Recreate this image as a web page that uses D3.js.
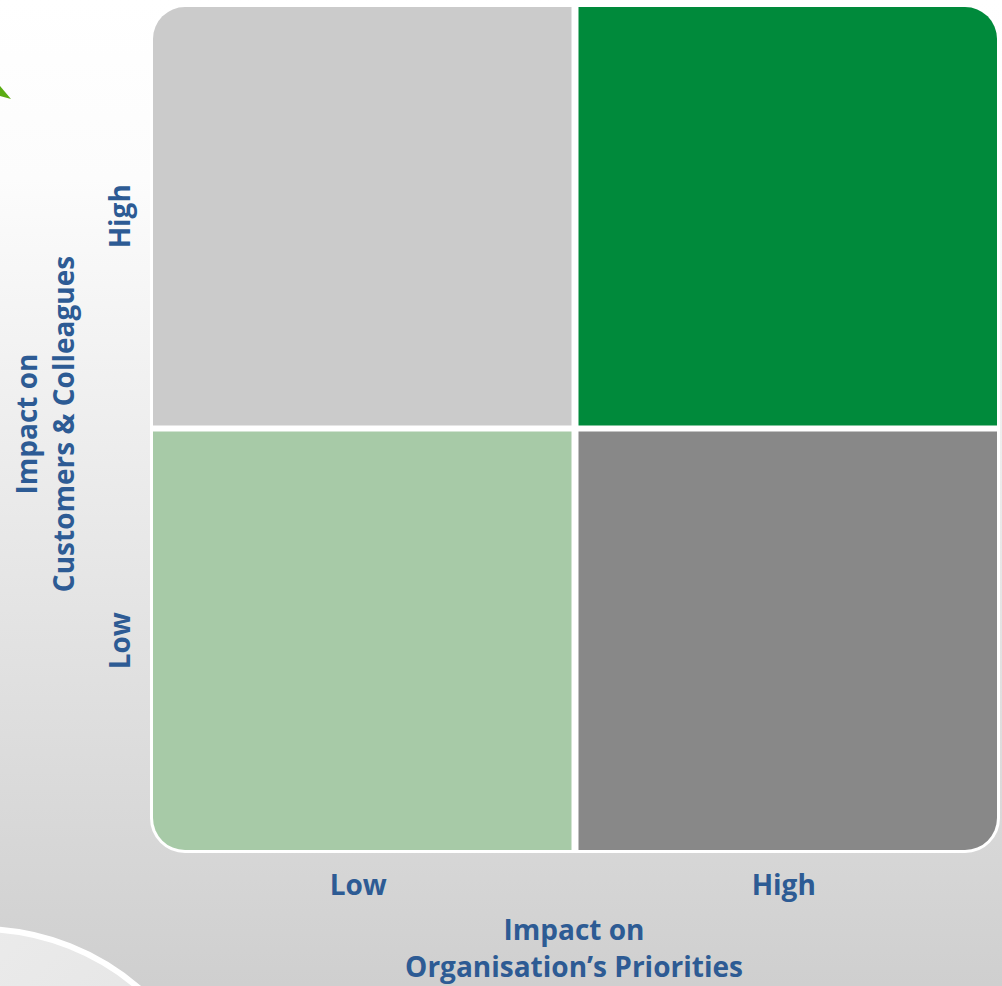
<!DOCTYPE html>
<html>
<head>
<meta charset="utf-8">
<script src="https://cdn.jsdelivr.net/npm/d3@7"></script>
<style>
   html, body { margin: 0; padding: 0; background: #ffffff; }
   #matrixDiv { width: 1002px; height: 986px; }
</style>
</head>
<body>
<div id="matrixDiv"></div>
<script>
//----------------------------------------------------------------------------------------------------
// data: two categories on each axis, one fill per quadrant
var xLevels = ["Low", "High"];          // impact on organisation's priorities
var yLevels = ["High", "Low"];          // impact on customers & colleagues, top to bottom
var quadrants = [
   {x: "Low",  y: "High", fill: "#cbcbcb"},
   {x: "High", y: "High", fill: "#008a3b"},
   {x: "Low",  y: "Low",  fill: "#a7caa7"},
   {x: "High", y: "Low",  fill: "#888888"}
   ];
var xTitle = ["Impact on", "Organisation\u2019s Priorities"];
var yTitle = ["Impact on", "Customers & Colleagues"];

var chartWidth = 1002;
var chartHeight = 986;
var textColor = "#2d5b94";
var font = "'Open Sans', 'DejaVu Sans', sans-serif";

   // matrix box ('top' is taken by window.top, so keep these prefixed)
var mLeft = 153, mRight = 997, mTop = 7, mBottom = 850;
var gap = 7;
//----------------------------------------------------------------------------------------------------
function drawBackground(svg)
{
   var defs = svg.append("defs");

   var bg = defs.append("linearGradient")
      .attr("id", "bgGrad")
      .attr("x1", 0).attr("y1", 0).attr("x2", 0).attr("y2", 1);
   bg.append("stop").attr("offset", "0").attr("stop-color", "#ffffff");
   bg.append("stop").attr("offset", "0.18").attr("stop-color", "#fcfcfc");
   bg.append("stop").attr("offset", "1").attr("stop-color", "#cfcfcf");

   var disc = defs.append("linearGradient")
      .attr("id", "discGrad")
      .attr("x1", 0).attr("y1", 0).attr("x2", 1).attr("y2", 1);
   disc.append("stop").attr("offset", "0").attr("stop-color", "#f0f0f0");
   disc.append("stop").attr("offset", "1").attr("stop-color", "#dcdcdc");

   defs.append("clipPath")
      .attr("id", "matrixClip")
      .append("rect")
      .attr("x", mLeft).attr("y", mTop)
      .attr("width", mRight - mLeft).attr("height", mBottom - mTop)
      .attr("rx", 32).attr("ry", 32);

   svg.append("rect")
      .attr("width", chartWidth).attr("height", chartHeight)
      .attr("fill", "url(#bgGrad)");

      // decorative white ring peeking in at bottom left
   svg.append("circle")
      .attr("cx", -20).attr("cy", 1172).attr("r", 243)
      .attr("fill", "url(#discGrad)")
      .attr("stroke", "#ffffff")
      .attr("stroke-width", 6);

      // green arrow tip at the top left edge
   svg.append("path")
      .attr("d", "M0,86 L11,99 L0,96 Z")
      .attr("fill", "#5aac12");

} // drawBackground
//----------------------------------------------------------------------------------------------------
function drawMatrix(svg, xScale, yScale)
{
   svg.append("rect")
      .attr("x", mLeft).attr("y", mTop)
      .attr("width", mRight - mLeft).attr("height", mBottom - mTop)
      .attr("rx", 32).attr("ry", 32)
      .attr("fill", "#ffffff")
      .attr("stroke", "#ffffff")
      .attr("stroke-width", 6);

   svg.append("g")
      .attr("clip-path", "url(#matrixClip)")
      .selectAll("rect")
      .data(quadrants)
      .enter()
      .append("rect")
      .attr("x", function(d){ return xScale(d.x); })
      .attr("y", function(d){ return yScale(d.y); })
      .attr("width", xScale.bandwidth())
      .attr("height", yScale.bandwidth())
      .attr("fill", function(d){ return d.fill; });

} // drawMatrix
//----------------------------------------------------------------------------------------------------
function drawLabels(svg, xScale, yScale)
{
   var label = function(sel){
      sel.attr("fill", textColor)
         .attr("font-family", font)
         .attr("font-weight", "bold")
         .attr("font-size", 28)
         .attr("text-anchor", "middle");
      };

   svg.selectAll("text.xTick")
      .data(xLevels)
      .enter()
      .append("text")
      .attr("class", "xTick")
      .attr("x", function(d){ return xScale(d) + xScale.bandwidth() / 2 - 4; })
      .attr("y", 895)
      .text(function(d){ return d; })
      .call(label);

   svg.selectAll("text.xTitle")
      .data(xTitle)
      .enter()
      .append("text")
      .attr("class", "xTitle")
      .attr("x", 574)
      .attr("y", function(d, i){ return 940 + i * 37; })
      .text(function(d){ return d; })
      .call(label);

   svg.selectAll("text.yTick")
      .data(yLevels)
      .enter()
      .append("text")
      .attr("class", "yTick")
      .attr("transform", function(d){
         return "translate(130," + (yScale(d) + yScale.bandwidth() / 2) + ") rotate(-90)";
         })
      .text(function(d){ return d; })
      .call(label);

   svg.selectAll("text.yTitle")
      .data(yTitle)
      .enter()
      .append("text")
      .attr("class", "yTitle")
      .attr("transform", function(d, i){
         return "translate(" + (37 + i * 37) + ",424) rotate(-90)";
         })
      .text(function(d){ return d; })
      .call(label);

} // drawLabels
//----------------------------------------------------------------------------------------------------
function drawChart()
{
   var xScale = d3.scaleBand()
      .domain(xLevels)
      .range([mLeft, mRight])
      .paddingInner(gap / ((mRight - mLeft + gap) / 2));

   var yScale = d3.scaleBand()
      .domain(yLevels)
      .range([mTop, mBottom])
      .paddingInner((gap - 1) / ((mBottom - mTop + gap - 1) / 2));

   var svg = d3.select("#matrixDiv")
      .append("svg")
      .attr("width", chartWidth)
      .attr("height", chartHeight);

   drawBackground(svg);
   drawMatrix(svg, xScale, yScale);
   drawLabels(svg, xScale, yScale);

} // drawChart
//----------------------------------------------------------------------------------------------------
drawChart();
</script>
</body>
</html>
